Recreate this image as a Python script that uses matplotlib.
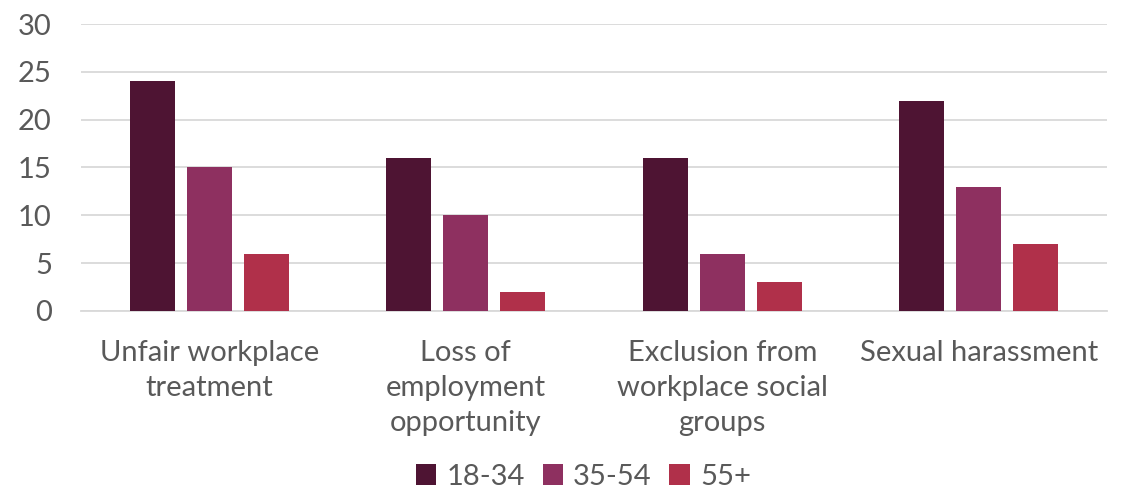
import matplotlib
matplotlib.use("Agg")
import matplotlib.pyplot as plt
import numpy as np

categories = ["Unfair workplace\ntreatment", "Loss of\nemployment\nopportunity",
              "Exclusion from\nworkplace social\ngroups", "Sexual harassment"]
series_names = ["18-34", "35-54", "55+"]
s_18_34 = [24, 16, 16, 22]
s_35_54 = [15, 10, 6, 13]
s_55 = [6, 2, 3, 7]
colors = ["#4E1433", "#8E3060", "#B0304A"]
yticks = [0, 5, 10, 15, 20, 25, 30]

plt.rcParams['font.family'] = ['Lato', 'DejaVu Sans']
text_color = "#595959"

fig = plt.figure(figsize=(11.22, 4.96), dpi=100)
ax = fig.add_axes([0.0722, 0.373, 0.9144, 0.5786])

x = np.arange(len(categories))
width = 0.175
step = 0.222
for i, (vals, name) in enumerate(zip([s_18_34, s_35_54, s_55], series_names)):
    ax.bar(x + (i - 1) * step, vals, width, color=colors[i], label=name, zorder=3)

ax.set_xlim(-0.5, len(categories) - 0.5)
ax.set_ylim(0, 30)
ax.set_yticks(yticks)
ax.grid(axis='y', color='#d9d9d9', linewidth=1.3, zorder=0)
for s in ['top', 'right', 'left']:
    ax.spines[s].set_visible(False)
ax.spines['bottom'].set_color('#d9d9d9')
ax.spines['bottom'].set_linewidth(1.3)
ax.tick_params(axis='y', length=0, pad=21, labelsize=21, labelcolor=text_color)
ax.tick_params(axis='x', length=0, pad=21, labelsize=21, labelcolor=text_color)
ax.set_xticks(x)
ax.set_xticklabels(categories, linespacing=1.42, va='top')

leg = fig.legend(loc='lower center', bbox_to_anchor=(0.52, -0.04), ncol=3, frameon=False,
                 fontsize=21, handlelength=0.7, handleheight=0.7, handletextpad=0.35,
                 columnspacing=0.6)
for t in leg.get_texts():
    t.set_color(text_color)

fig.savefig("out.png", dpi=100)
